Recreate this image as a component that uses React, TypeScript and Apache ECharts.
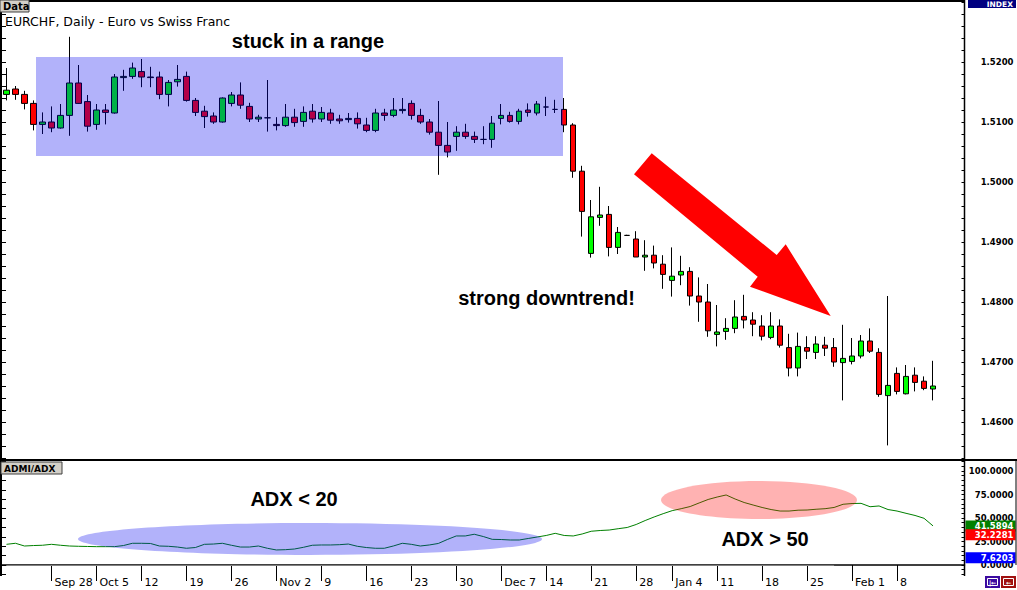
import React, { useEffect, useRef } from 'react';
import * as echarts from 'echarts';

const dates = [
  '2009-09-21', '2009-09-22', '2009-09-23', '2009-09-24', '2009-09-25',
  '2009-09-28', '2009-09-29', '2009-09-30', '2009-10-01', '2009-10-02',
  '2009-10-05', '2009-10-06', '2009-10-07', '2009-10-08', '2009-10-09',
  '2009-10-12', '2009-10-13', '2009-10-14', '2009-10-15', '2009-10-16',
  '2009-10-19', '2009-10-20', '2009-10-21', '2009-10-22', '2009-10-23',
  '2009-10-26', '2009-10-27', '2009-10-28', '2009-10-29', '2009-10-30',
  '2009-11-02', '2009-11-03', '2009-11-04', '2009-11-05', '2009-11-06',
  '2009-11-09', '2009-11-10', '2009-11-11', '2009-11-12', '2009-11-13',
  '2009-11-16', '2009-11-17', '2009-11-18', '2009-11-19', '2009-11-20',
  '2009-11-23', '2009-11-24', '2009-11-25', '2009-11-26', '2009-11-27',
  '2009-11-30', '2009-12-01', '2009-12-02', '2009-12-03', '2009-12-04',
  '2009-12-07', '2009-12-08', '2009-12-09', '2009-12-10', '2009-12-11',
  '2009-12-14', '2009-12-15', '2009-12-16', '2009-12-17', '2009-12-18',
  '2009-12-21', '2009-12-22', '2009-12-23', '2009-12-24', '2009-12-25',
  '2009-12-28', '2009-12-29', '2009-12-30', '2009-12-31',
  '2010-01-04', '2010-01-05', '2010-01-06', '2010-01-07', '2010-01-08',
  '2010-01-11', '2010-01-12', '2010-01-13', '2010-01-14', '2010-01-15',
  '2010-01-18', '2010-01-19', '2010-01-20', '2010-01-21', '2010-01-22',
  '2010-01-25', '2010-01-26', '2010-01-27', '2010-01-28', '2010-01-29',
  '2010-02-01', '2010-02-02', '2010-02-03', '2010-02-04', '2010-02-05',
  '2010-02-08', '2010-02-09', '2010-02-10', '2010-02-11', '2010-02-12',
];

const tickLabels: [string, string][] = [
  ['2009-09-28', 'Sep 28'], ['2009-10-05', 'Oct 5'], ['2009-10-12', '12'],
  ['2009-10-19', '19'], ['2009-10-26', '26'], ['2009-11-02', 'Nov 2'],
  ['2009-11-09', '9'], ['2009-11-16', '16'], ['2009-11-23', '23'],
  ['2009-11-30', '30'], ['2009-12-07', 'Dec 7'], ['2009-12-14', '14'],
  ['2009-12-21', '21'], ['2009-12-28', '28'], ['2010-01-04', 'Jan 4'],
  ['2010-01-11', '11'], ['2010-01-18', '18'], ['2010-01-25', '25'],
  ['2010-02-01', 'Feb 1'], ['2010-02-08', '8'],
];

const open = [
  1.5146, 1.5155, 1.5146, 1.5131, 1.5096, 1.5100, 1.5090, 1.5111, 1.5165, 1.5134,
  1.5096, 1.5120, 1.5115, 1.5174, 1.5176, 1.5184, 1.5175, 1.5175, 1.5146, 1.5167,
  1.5176, 1.5136, 1.5118, 1.5110, 1.5100, 1.5131, 1.5145, 1.5126, 1.5105, 1.5107,
  1.5096, 1.5094, 1.5108, 1.5101, 1.5118, 1.5105, 1.5115, 1.5105, 1.5104, 1.5106,
  1.5095, 1.5086, 1.5115, 1.5111, 1.5119, 1.5131, 1.5111, 1.5100, 1.5083, 1.5061,
  1.5076, 1.5083, 1.5076, 1.5071, 1.5071, 1.5106, 1.5111, 1.5101, 1.5120, 1.5115,
  1.5125, 1.5121, 1.5121, 1.5095, 1.5018, 1.4881, 1.4941, 1.4946, 1.4891, 1.4911,
  1.4905, 1.4875, 1.4878, 1.4863, 1.4836, 1.4845, 1.4851, 1.4810, 1.4800, 1.4746,
  1.4751, 1.4756, 1.4776, 1.4770, 1.4760, 1.4741, 1.4760, 1.4724, 1.4690, 1.4724,
  1.4716, 1.4728, 1.4724, 1.4699, 1.4701, 1.4710, 1.4735, 1.4716, 1.4644, 1.4681,
  1.4647, 1.4678, 1.4668, 1.4655,
];
const close = [
  1.5153, 1.5146, 1.5131, 1.5096, 1.5100, 1.5090, 1.5111, 1.5165, 1.5131, 1.5093,
  1.5120, 1.5116, 1.5175, 1.5176, 1.5190, 1.5175, 1.5174, 1.5146, 1.5166, 1.5171,
  1.5136, 1.5116, 1.5109, 1.5100, 1.5140, 1.5145, 1.5128, 1.5105, 1.5108, 1.5107,
  1.5094, 1.5108, 1.5099, 1.5116, 1.5105, 1.5116, 1.5103, 1.5102, 1.5106, 1.5097,
  1.5086, 1.5115, 1.5111, 1.5120, 1.5121, 1.5111, 1.5100, 1.5083, 1.5061, 1.5050,
  1.5083, 1.5076, 1.5071, 1.5071, 1.5098, 1.5111, 1.5101, 1.5118, 1.5116, 1.5130,
  1.5125, 1.5121, 1.5095, 1.5018, 1.4951, 1.4942, 1.4945, 1.4891, 1.4916, 1.4911,
  1.4875, 1.4878, 1.4865, 1.4846, 1.4843, 1.4851, 1.4810, 1.4800, 1.4752, 1.4750,
  1.4756, 1.4775, 1.4770, 1.4763, 1.4743, 1.4760, 1.4728, 1.4690, 1.4726, 1.4718,
  1.4730, 1.4723, 1.4700, 1.4706, 1.4710, 1.4735, 1.4718, 1.4646, 1.4661, 1.4651,
  1.4676, 1.4666, 1.4656, 1.4660,
];
const low = [
  1.5136, 1.5137, 1.5121, 1.5086, 1.5080, 1.5083, 1.5089, 1.5077, 1.5130, 1.5084,
  1.5087, 1.5096, 1.5114, 1.5152, 1.5172, 1.5158, 1.5158, 1.5138, 1.5126, 1.5159,
  1.5134, 1.5110, 1.5090, 1.5097, 1.5099, 1.5126, 1.5122, 1.5100, 1.5100, 1.5084,
  1.5086, 1.5092, 1.5092, 1.5092, 1.5099, 1.5100, 1.5097, 1.5097, 1.5099, 1.5089,
  1.5083, 1.5083, 1.5102, 1.5108, 1.5114, 1.5104, 1.5097, 1.5079, 1.5012, 1.5041,
  1.5052, 1.5072, 1.5065, 1.5063, 1.5057, 1.5096, 1.5099, 1.5096, 1.5109, 1.5111,
  1.5110, 1.5115, 1.5083, 1.5007, 1.4909, 1.4874, 1.4927, 1.4876, 1.4880, 1.4910,
  1.4875, 1.4852, 1.4856, 1.4822, 1.4809, 1.4828, 1.4794, 1.4767, 1.4742, 1.4726,
  1.4737, 1.4748, 1.4756, 1.4743, 1.4736, 1.4738, 1.4724, 1.4676, 1.4676, 1.4705,
  1.4705, 1.4710, 1.4692, 1.4636, 1.4696, 1.4706, 1.4715, 1.4642, 1.4561, 1.4646,
  1.4646, 1.4651, 1.4653, 1.4636,
];
const high = [
  1.5190, 1.5160, 1.5152, 1.5136, 1.5116, 1.5126, 1.5130, 1.5242, 1.5195, 1.5145,
  1.5130, 1.5130, 1.5180, 1.5187, 1.5199, 1.5205, 1.5192, 1.5184, 1.5170, 1.5195,
  1.5184, 1.5140, 1.5127, 1.5116, 1.5141, 1.5150, 1.5166, 1.5132, 1.5112, 1.5170,
  1.5108, 1.5130, 1.5122, 1.5126, 1.5130, 1.5125, 1.5122, 1.5112, 1.5115, 1.5116,
  1.5107, 1.5122, 1.5122, 1.5140, 1.5140, 1.5136, 1.5122, 1.5105, 1.5135, 1.5100,
  1.5093, 1.5097, 1.5084, 1.5093, 1.5110, 1.5130, 1.5117, 1.5122, 1.5131, 1.5135,
  1.5142, 1.5137, 1.5140, 1.5098, 1.5027, 1.4970, 1.4992, 1.4960, 1.4925, 1.4912,
  1.4918, 1.4903, 1.4894, 1.4878, 1.4891, 1.4877, 1.4858, 1.4841, 1.4830, 1.4795,
  1.4773, 1.4803, 1.4812, 1.4783, 1.4778, 1.4783, 1.4771, 1.4747, 1.4749, 1.4743,
  1.4743, 1.4742, 1.4740, 1.4762, 1.4740, 1.4745, 1.4756, 1.4723, 1.4810, 1.4691,
  1.4695, 1.4691, 1.4676, 1.4702,
];

const adx = [
  22.0, 23.1, 20.2, 20.7, 21.0, 22.0, 21.0, 20.2, 19.9, 19.7,
  19.5, 19.5, 19.5, 20.7, 23.1, 23.1, 22.9, 20.2, 19.9, 19.1,
  17.8, 18.6, 22.0, 22.3, 23.1, 21.0, 19.1, 19.1, 20.2, 17.8,
  16.0, 16.3, 17.0, 18.8, 21.0, 21.3, 21.3, 21.6, 22.3, 19.9,
  18.6, 17.8, 17.8, 20.2, 23.1, 22.0, 20.2, 21.3, 22.9, 27.1,
  30.9, 30.9, 32.7, 30.3, 27.3, 27.1, 26.6, 26.6, 28.2, 29.8,
  31.4, 33.7, 31.4, 30.9, 33.0, 35.9, 36.7, 37.2, 38.6, 39.9,
  43.1, 47.3, 51.1, 54.6, 57.8, 59.9, 62.2, 66.0, 69.7, 72.3,
  74.5, 70.2, 66.5, 63.8, 61.2, 59.0, 57.4, 57.4, 58.3, 58.5,
  59.3, 59.9, 61.2, 64.6, 65.4, 65.6, 62.0, 62.8, 59.0, 57.4,
  55.0, 52.7, 49.7, 41.5894,
];
const minusDI = 32.2281;
const plusDI = 7.6203;

const priceLabels = [1.46, 1.47, 1.48, 1.49, 1.5, 1.51, 1.52];
const adxLabels = [0, 25, 50, 75, 100];
const rightPadCategories = [' ', '  ', '   '];
const zeroLineEnd = '2010-01-28';

const FONT = '"DejaVu Sans", Verdana, sans-serif';
const ARIAL = '"Liberation Sans", Arial, sans-serif';

export default function App() {
  const ref = useRef<HTMLDivElement>(null);

  useEffect(() => {
    if (!ref.current) return;
    const chart = echarts.init(ref.current, undefined, { renderer: 'svg' });
    const cats = [...dates, ...rightPadCategories];
    const labelMap = new Map<string, string>(tickLabels);
    const candles = dates.map((_, i) => [open[i], close[i], low[i], high[i]]);
    const axisFont = { fontFamily: FONT, fontWeight: 'bold' as const, fontSize: 8.5, color: '#000' };
    const overlayBlue = 'rgba(0,0,238,0.3)';
    const overlayRed = 'rgba(255,0,0,0.3)';

    const valueBox = (value: number, bg: string) => ({
      yAxis: value,
      label: {
        show: true,
        position: 'end',
        distance: 1,
        formatter: () => '{v|' + value.toFixed(4) + '}',
        backgroundColor: bg,
        padding: [1, 2, 0, 2],
        rich: {
          v: { width: 46, align: 'right', color: '#fff', fontFamily: FONT, fontWeight: 'bold', fontSize: 8.5, lineHeight: 10 },
        },
      },
      lineStyle: { color: 'rgba(0,0,0,0)', width: 0 },
    });

    const option: any = {
      animation: false,
      backgroundColor: '#ffffff',
      grid: [
        { left: 2, right: 52.5, top: 2, height: 456, containLabel: false, outerBoundsMode: 'none' },
        { left: 2, right: 52.5, top: 461.6, height: 112.8, containLabel: false, outerBoundsMode: 'none' },
      ],
      xAxis: [
        { type: 'category', gridIndex: 0, data: cats, boundaryGap: true, show: false },
        {
          type: 'category', gridIndex: 1, data: cats, boundaryGap: true,
          axisLine: { show: true, lineStyle: { color: '#000', width: 1.5 } },
          axisTick: {
            show: true, alignWithLabel: true, length: 16,
            interval: (_i: number, v: string) => labelMap.has(v),
            lineStyle: { color: '#000', width: 1 },
          },
          axisLabel: {
            show: true,
            interval: (_i: number, v: string) => labelMap.has(v),
            formatter: (v: string) => labelMap.get(v) ?? '',
            align: 'left', padding: [0, 0, 0, 3], margin: 3,
            fontFamily: FONT, fontSize: 11, color: '#000',
          },
          splitLine: { show: false },
        },
      ],
      yAxis: [
        {
          type: 'value', gridIndex: 0, position: 'right', min: 1.454, max: 1.53, interval: 0.002,
          axisLine: { show: false },
          axisTick: { show: true, inside: true, length: 3, lineStyle: { color: '#000' } },
          axisLabel: {
            show: true, align: 'right', margin: 49, ...axisFont,
            formatter: (v: number) => (priceLabels.some((p) => Math.abs(p - v) < 1e-7) ? v.toFixed(4) : ''),
          },
          splitLine: { show: false },
        },
        {
          type: 'value', gridIndex: 0, position: 'left', min: 1.454, max: 1.53, interval: 0.002,
          axisLine: { show: false },
          axisTick: { show: true, inside: true, length: 4, lineStyle: { color: '#000' } },
          axisLabel: { show: false },
          splitLine: { show: false },
        },
        {
          type: 'value', gridIndex: 1, position: 'right', min: -10, max: 110, interval: 5,
          axisLine: { show: false },
          axisTick: { show: true, inside: true, length: 3, lineStyle: { color: '#000' } },
          axisLabel: {
            show: true, align: 'right', margin: 49, ...axisFont,
            formatter: (v: number) => (adxLabels.some((p) => Math.abs(p - v) < 1e-7) ? v.toFixed(4) : ''),
          },
          splitLine: { show: false },
        },
        {
          type: 'value', gridIndex: 1, position: 'left', min: -10, max: 110, interval: 10,
          axisLine: { show: false },
          axisTick: { show: true, inside: true, length: 4, lineStyle: { color: '#000' } },
          axisLabel: { show: false },
          splitLine: { show: false },
        },
      ],
      series: [
        {
          type: 'candlestick', name: 'EURCHF', xAxisIndex: 0, yAxisIndex: 0,
          data: candles, barWidth: 6,
          itemStyle: { color: '#00ff00', color0: '#ff0000', borderColor: '#000', borderColor0: '#000', borderWidth: 1 },
        },
        {
          type: 'line', name: 'ADX', xAxisIndex: 1, yAxisIndex: 2,
          data: adx, showSymbol: false, symbol: 'none',
          lineStyle: { color: '#008000', width: 1 },
          markLine: {
            silent: true, symbol: 'none', animation: false,
            label: { show: false },
            data: [
              [
                { coord: [dates[0], 0], lineStyle: { color: '#808080', width: 1, type: 'solid' }, label: { show: false } },
                { coord: [zeroLineEnd, 0] },
              ],
              valueBox(adx[adx.length - 1], '#008000'),
              valueBox(minusDI, '#ff0000'),
              valueBox(plusDI, '#0000ff'),
            ],
          },
        },
      ],
      graphic: [
        { type: 'rect', z: 100, shape: { x: 36, y: 57, width: 527, height: 99 }, style: { fill: overlayBlue } },
        { type: 'text', z: 110, x: 308, y: 41, style: { text: 'stuck in a range', font: 'bold 20px ' + ARIAL, fill: '#000', align: 'center', verticalAlign: 'middle' } },
        {
          type: 'polygon', z: 100,
          shape: { points: [[651.7, 153.3], [776.7, 255], [785.7, 244.3], [830.7, 316], [750, 286.7], [757.7, 276.7], [634, 174.3]] },
          style: { fill: '#ff0000' },
        },
        { type: 'text', z: 110, x: 546.5, y: 298, style: { text: 'strong downtrend!', font: 'bold 20px ' + ARIAL, fill: '#000', align: 'center', verticalAlign: 'middle' } },
        { type: 'ellipse', z: 100, shape: { cx: 310, cy: 539, rx: 232, ry: 16 }, style: { fill: overlayBlue } },
        { type: 'ellipse', z: 100, shape: { cx: 759, cy: 500, rx: 98, ry: 19 }, style: { fill: overlayRed } },
        { type: 'text', z: 110, x: 294, y: 499, style: { text: 'ADX < 20', font: 'bold 20px ' + ARIAL, fill: '#000', align: 'center', verticalAlign: 'middle' } },
        { type: 'text', z: 110, x: 765, y: 539, style: { text: 'ADX > 50', font: 'bold 20px ' + ARIAL, fill: '#000', align: 'center', verticalAlign: 'middle' } },
        { type: 'text', z: 110, x: 5, y: 21, style: { text: 'EURCHF, Daily - Euro vs Swiss Franc', font: '12.5px ' + FONT, fill: '#000', verticalAlign: 'middle' } },
        // frame
        { type: 'line', z: 200, shape: { x1: 0, y1: 1, x2: 965, y2: 1 }, style: { stroke: '#000', lineWidth: 2 } },
        { type: 'line', z: 200, shape: { x1: 1, y1: 0, x2: 1, y2: 576 }, style: { stroke: '#000', lineWidth: 2 } },
        { type: 'line', z: 200, shape: { x1: 0, y1: 460, x2: 1017, y2: 460 }, style: { stroke: '#000', lineWidth: 2 } },
        { type: 'line', z: 200, shape: { x1: 964.5, y1: 0, x2: 964.5, y2: 576 }, style: { stroke: '#000', lineWidth: 1.5 } },
        { type: 'line', z: 200, shape: { x1: 1016, y1: 460, x2: 1016, y2: 565 }, style: { stroke: '#000', lineWidth: 1 } },
        // Data tab
        { type: 'rect', z: 210, shape: { x: 0, y: 0, width: 29, height: 12 }, style: { fill: '#d4d0c8', stroke: '#404040', lineWidth: 1 } },
        { type: 'text', z: 211, x: 3, y: 6.5, style: { text: 'Data', font: 'bold 10px ' + FONT, fill: '#000', verticalAlign: 'middle' } },
        // ADMI/ADX tab
        { type: 'rect', z: 210, shape: { x: 1, y: 462, width: 61, height: 12 }, style: { fill: '#d4d0c8', stroke: '#404040', lineWidth: 1 } },
        { type: 'text', z: 211, x: 4, y: 468.5, style: { text: 'ADMI/ADX', font: 'bold 9px ' + FONT, fill: '#000', verticalAlign: 'middle' } },
        // INDEX
        { type: 'rect', z: 210, shape: { x: 968, y: 0, width: 48, height: 8 }, style: { fill: '#000080' } },
        { type: 'text', z: 211, x: 1013, y: 4.5, style: { text: 'INDEX', font: 'bold 7.5px ' + FONT, fill: '#fff', align: 'right', verticalAlign: 'middle' } },
        // nav buttons
        { type: 'rect', z: 210, shape: { x: 985, y: 576, width: 15, height: 12 }, style: { fill: '#3c0aa0' } },
        { type: 'rect', z: 211, shape: { x: 987.5, y: 578.5, width: 10, height: 7 }, style: { fill: 'none', stroke: '#fff', lineWidth: 1 } },
        { type: 'text', z: 212, x: 992.5, y: 582, style: { text: '|←', font: 'bold 6px ' + FONT, fill: '#fff', align: 'center', verticalAlign: 'middle' } },
        { type: 'rect', z: 210, shape: { x: 1001, y: 576, width: 15, height: 12 }, style: { fill: '#a01010' } },
        { type: 'rect', z: 211, shape: { x: 1003.5, y: 578.5, width: 10, height: 7 }, style: { fill: 'none', stroke: '#fff', lineWidth: 1 } },
        { type: 'text', z: 212, x: 1008.5, y: 582, style: { text: '←', font: 'bold 6px ' + FONT, fill: '#fff', align: 'center', verticalAlign: 'middle' } },
      ],
    };

    chart.setOption(option);
    return () => chart.dispose();
  }, []);

  return (
    <div
      ref={ref}
      style={{ position: 'fixed', left: 0, top: 0, width: 1017, height: 590, background: '#fff' }}
    />
  );
}
